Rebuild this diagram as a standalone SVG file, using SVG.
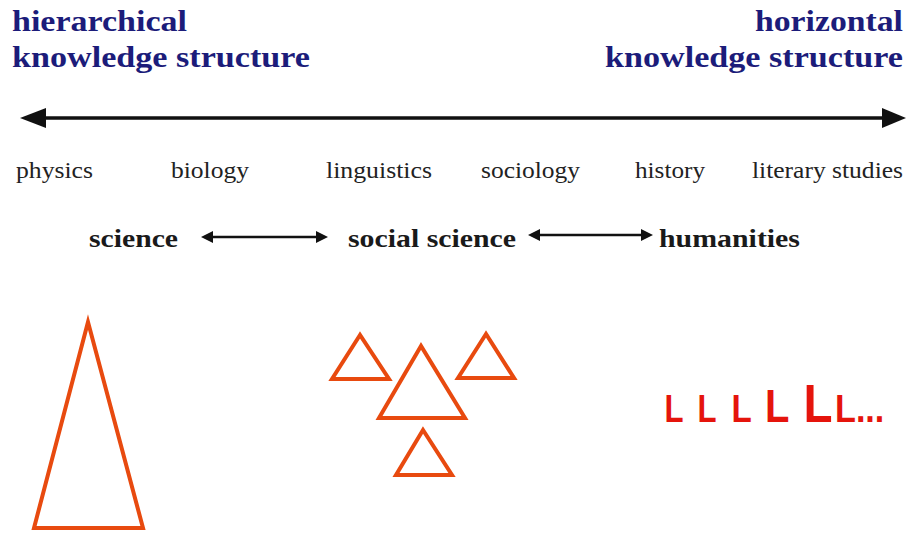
<svg xmlns="http://www.w3.org/2000/svg" width="909" height="533" viewBox="0 0 909 533">
<style>
.title{font-family:"Liberation Serif","Times New Roman",serif;font-weight:bold;font-size:30px;fill:#1c1c7a}
.disc{font-family:"Liberation Serif","Times New Roman",serif;font-size:24px;fill:#222}
.field{font-family:"Liberation Serif","Times New Roman",serif;font-weight:bold;font-size:26px;fill:#1a1a1a}
.tri{fill:none;stroke:#e84a0f;stroke-width:4;stroke-linejoin:miter}
.ell{font-family:"Liberation Sans",Arial,sans-serif;font-weight:bold;fill:#e5140c}
.axis{stroke:#111;fill:none}
</style>
<rect width="909" height="533" fill="#ffffff"/>
<g id="title-left">
<text class="title" x="12" y="31" textLength="175" lengthAdjust="spacingAndGlyphs">hierarchical</text>
<text class="title" x="12" y="67" textLength="298" lengthAdjust="spacingAndGlyphs">knowledge structure</text>
</g>
<g id="title-right">
<text class="title" x="755" y="31" textLength="148" lengthAdjust="spacingAndGlyphs">horizontal</text>
<text class="title" x="605" y="67" textLength="298" lengthAdjust="spacingAndGlyphs">knowledge structure</text>
</g>
<g id="connectors">
<line class="axis" x1="40" y1="118" x2="886" y2="118" stroke-width="3.5"/>
<polygon points="20,118 46,108 46,128" fill="#111"/>
<polygon points="906,118 882,108 882,128" fill="#111"/>
<line class="axis" x1="210" y1="237" x2="318" y2="237" stroke-width="2.5"/>
<polygon points="201,237 213,231 213,243" fill="#111"/>
<polygon points="328,237 316,231 316,243" fill="#111"/>
<line class="axis" x1="537" y1="235" x2="643" y2="235" stroke-width="2.5"/>
<polygon points="528,235 540,229 540,241" fill="#111"/>
<polygon points="653,235 641,229 641,241" fill="#111"/>
</g>
<g id="disciplines">
<text class="disc" x="16" y="178" textLength="77" lengthAdjust="spacingAndGlyphs">physics</text>
<text class="disc" x="171" y="178" textLength="78" lengthAdjust="spacingAndGlyphs">biology</text>
<text class="disc" x="326" y="178" textLength="106" lengthAdjust="spacingAndGlyphs">linguistics</text>
<text class="disc" x="481" y="178" textLength="99" lengthAdjust="spacingAndGlyphs">sociology</text>
<text class="disc" x="635" y="178" textLength="70" lengthAdjust="spacingAndGlyphs">history</text>
<text class="disc" x="752" y="178" textLength="151" lengthAdjust="spacingAndGlyphs">literary studies</text>
</g>
<g id="science">
<text class="field" x="89" y="247" textLength="89" lengthAdjust="spacingAndGlyphs">science</text>
</g>
<g id="social-science">
<text class="field" x="348" y="247" textLength="168" lengthAdjust="spacingAndGlyphs">social science</text>
</g>
<g id="humanities">
<text class="field" x="659" y="247" textLength="141" lengthAdjust="spacingAndGlyphs">humanities</text>
</g>
<g id="hierarchical-triangle">
<polygon class="tri" points="88,322 34,528 143,528"/>
</g>
<g id="social-triangles">
<polygon class="tri" points="360,335 332,379 389,379"/>
<polygon class="tri" points="421,346 379,418 465,418"/>
<polygon class="tri" points="486,334 458,378 514,378"/>
<polygon class="tri" points="423,430 396,475 452,475"/>
</g>
<g id="horizontal-ls">
<text class="ell" font-size="39" transform="translate(664.5,422) scale(0.8,1)">L</text>
<text class="ell" font-size="39" transform="translate(697.5,422) scale(0.8,1)">L</text>
<text class="ell" font-size="39" transform="translate(731.5,422) scale(0.85,1)">L</text>
<text class="ell" font-size="47" transform="translate(765,422) scale(0.85,1)">L</text>
<text class="ell" font-size="54" transform="translate(803.5,422) scale(0.88,1)">L</text>
<text class="ell" font-size="38" transform="translate(835,422) scale(0.9,1)">L...</text>
</g>
</svg>
